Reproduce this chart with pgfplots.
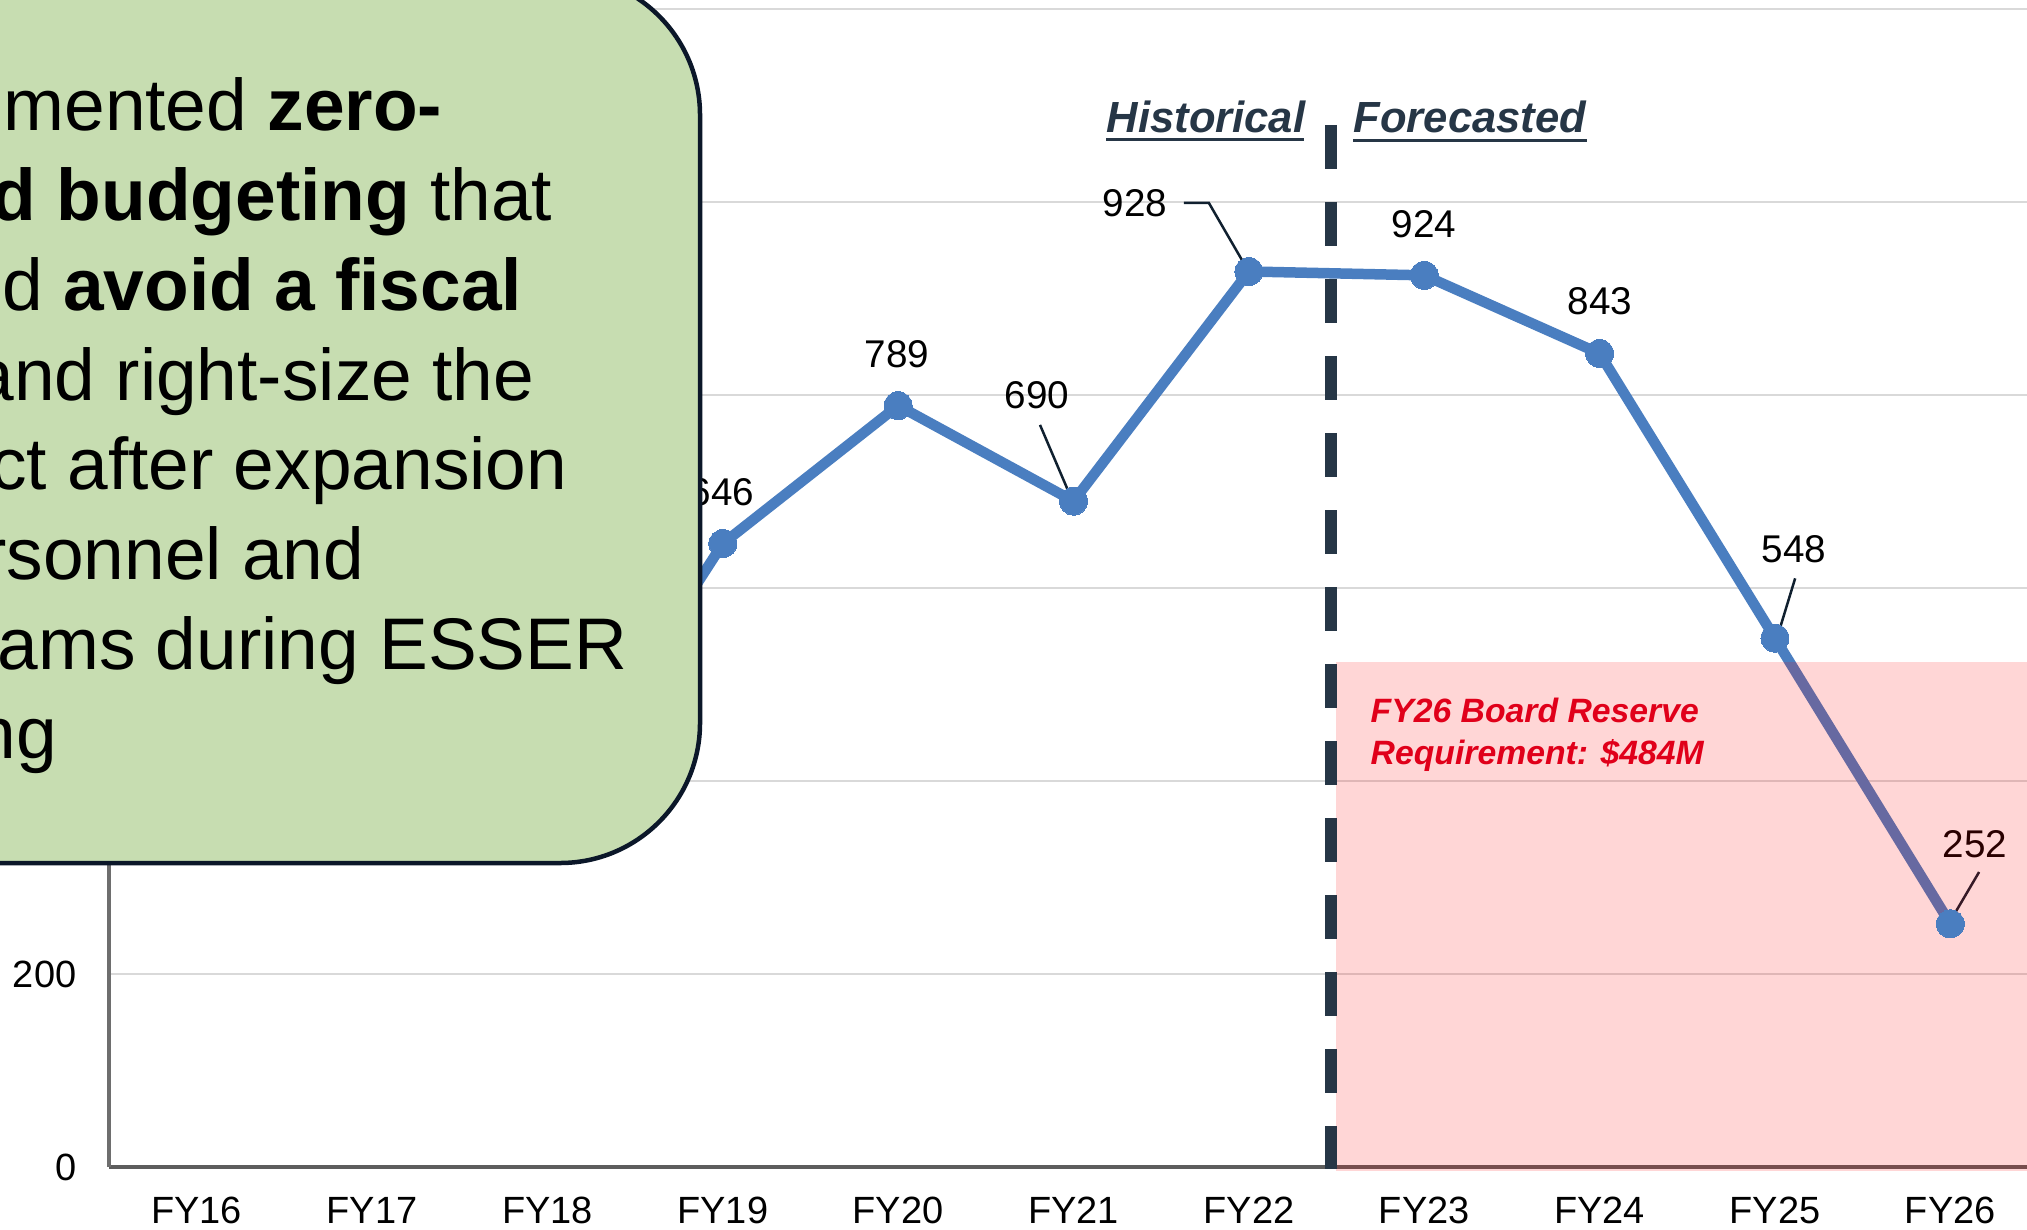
\documentclass[border=0pt]{standalone}
\usepackage{fontspec}
\setmainfont{Liberation Sans}
\usepackage{pgfplots}
\pgfplotsset{compat=1.18}
\definecolor{lineblue}{HTML}{4A7EC0}
\definecolor{boxgreen}{HTML}{C7DDB1}
\definecolor{boxnavy}{HTML}{0B1729}
\definecolor{slate}{HTML}{263646}
\definecolor{gridgray}{HTML}{D9D9D9}
\definecolor{axisgray}{HTML}{6E6E6E}
\definecolor{redtext}{HTML}{E0001A}
\definecolor{leadercol}{HTML}{10202F}
\newcommand\tickfont{\fontsize{10.8}{13}\selectfont}
\newcommand\labfont{\fontsize{11}{13}\selectfont}
\newcommand\histfont{\fontsize{12.4}{15}\selectfont\bfseries\itshape}
\newcommand\redfont{\fontsize{9.6}{12}\selectfont\bfseries\itshape}
\newcommand\boxfont{\fontsize{20.8}{26}\selectfont}

\begin{document}
\begin{tikzpicture}
\useasboundingbox (0,0) rectangle (202.7mm,122.9mm);
\clip (0,0) rectangle (202.7mm,122.9mm);
\begin{scope}[overlay]
\begin{axis}[
  at={(10.9mm,6.2mm)}, anchor=south west,
  scale only axis, width=192.9mm, height=115.8mm,
  xmin=-0.5, xmax=10.5, ymin=0, ymax=1200,
  axis x line*=bottom, axis y line*=left,
  x axis line style={draw=axisgray!85!black, line width=0.45mm},
  y axis line style={draw=axisgray, line width=0.35mm},
  xtick={0,1,2,3,4,5,6,7,8,9,10},
  xticklabels={FY16,FY17,FY18,FY19,FY20,FY21,FY22,FY23,FY24,FY25,FY26},
  ytick={0,200,400,600,800,1000,1200},
  yticklabels={0,200,,,,,},
  major tick length=0pt,
  ymajorgrids, grid style={draw=gridgray, line width=0.25mm},
  tick label style={font=\tickfont, text=black, inner sep=0pt},
  xticklabel style={anchor=base, yshift=-5.6mm},
  yticklabel style={anchor=mid east, xshift=-3.2mm, yshift=-0.4mm},
  /pgf/number format/assume math mode=true,
  clip=false,
]
\addplot[color=lineblue, line width=1.05mm, line join=round, mark=*, mark size=1.4mm,
  mark options={fill=lineblue, draw=lineblue, line width=0pt}]
  coordinates {(0,420) (1,390) (2,364) (3,646) (4,789) (5,690) (6,928) (7,924) (8,843) (9,548) (10,252)};
% data labels
\node[anchor=base, font=\labfont, inner sep=0pt] at (axis cs:2.996,686) {646};
\node[anchor=base, font=\labfont, inner sep=0pt] at (axis cs:3.993,828) {789};
\node[anchor=base, font=\labfont, inner sep=0pt] at (axis cs:4.792,786.5) {690};
\node[anchor=base, font=\labfont, inner sep=0pt] at (axis cs:5.351,984.5) {928};
\node[anchor=base, font=\labfont, inner sep=0pt] at (axis cs:6.999,963.7) {924};
\node[anchor=base, font=\labfont, inner sep=0pt] at (axis cs:8.003,883) {843};
\node[anchor=base, font=\labfont, inner sep=0pt] at (axis cs:9.109,626) {548};
\node[anchor=base, font=\labfont, inner sep=0pt] at (axis cs:10.14,321) {252};
% leader lines
\draw[leadercol, line width=0.25mm] (axis cs:5.630,999) -- (axis cs:5.772,999) -- (axis cs:6.0,927.5);
\draw[leadercol, line width=0.25mm] (axis cs:4.809,769) -- (axis cs:4.997,689);
\draw[leadercol, line width=0.25mm] (axis cs:9.115,610) -- (axis cs:9.011,548);
\draw[leadercol, line width=0.25mm] (axis cs:10.164,305.7) -- (axis cs:9.993,252.8);
% reserve band
\fill[red, fill opacity=0.16] (axis cs:6.497,-4) rectangle (axis cs:10.5,523);
\end{axis}
\begin{scope}[x=0.1mm, y=-0.1mm, shift={(0,122.9mm)}]
  % divider
  \draw[slate, line width=1.15mm, dash pattern=on 4.4mm off 3.3mm] (1331,125) -- (1331,1169);
  % headers
  \node[anchor=base west, inner sep=0pt, text=slate, font=\histfont] at (1106,133) {Historical};
  \draw[slate, line width=0.3mm] (1106,140) -- (1304,140);
  \node[anchor=base west, inner sep=0pt, text=slate, font=\histfont] at (1353,133) {Forecasted};
  \draw[slate, line width=0.3mm] (1353,141) -- (1587,141);
  % reserve text
  \node[anchor=base west, inner sep=0pt, text=redtext, font=\redfont] at (1370,722) {FY26 Board Reserve};
  \node[anchor=base west, inner sep=0pt, text=redtext, font=\redfont] at (1370,764) {Requirement: \$484M};
  % callout box
  \draw[fill=boxgreen, draw=boxnavy, line width=0.45mm, rounded corners=14mm] (-300,-25) rectangle (700,863);
  \begin{scope}[every node/.style={anchor=base east, inner sep=0pt, font=\boxfont, text=black}]
    \node at (443,131) {Implemented \textbf{zero-}};
    \node at (553,220.7) {\textbf{based budgeting} that};
    \node at (523,310.4) {helped \textbf{avoid a fiscal}};
    \node at (535,400.1) {\textbf{cliff} and right-size the};
    \node at (568,489.8) {district after expansion};
    \node at (365,579.5) {of personnel and};
    \node at (628,669.2) {programs during ESSER};
    \node at (58,758.9) {funding};
  \end{scope}
\end{scope}
\end{scope}
\end{tikzpicture}
\end{document}
